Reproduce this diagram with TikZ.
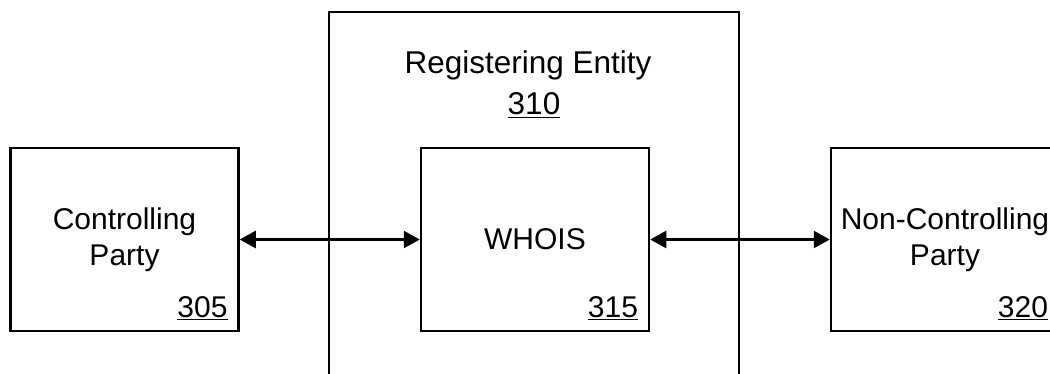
\documentclass[tikz,border=0pt]{standalone}
\usepackage{fontspec}
\setmainfont{Liberation Sans}
\usetikzlibrary{arrows.meta,positioning}

\begin{document}
\begin{tikzpicture}[x=1pt,y=-1pt,<->,>={Triangle[length=16pt,width=17pt]},
  line width=2.5pt,font=\fontsize{30}{36}\selectfont,
  box node/.style={rectangle,draw,minimum width=228pt,minimum height=183pt,align=center},
  num node/.style={anchor=base east,inner sep=0pt},
  title node/.style={anchor=base,inner sep=0pt,font=\fontsize{31.5}{38}\selectfont}]

  \useasboundingbox (0,0) rectangle (1050,374);
  \clip (0,0) rectangle (1050,374);

  \node[box node,minimum width=410pt,minimum height=455pt] (reg) at (534,239.5) {};
  \node[title node] (regtitle) at (528,74) {Registering Entity};
  \node[title node] (regnum) at (534,115) {\underline{310}};

  \node[box node] (ctrl) at (124.5,239.5) {Controlling\\Party};
  \node[box node] (whois) at (535,239.5) {WHOIS};
  \node[box node] (nonctrl) at (945,239.5) {Non-Controlling\\Party};

  \node[num node] (ctrlnum) at ([shift={(-11,-15)}]ctrl.south east) {\underline{305}};
  \node[num node] (whoisnum) at ([shift={(-11,-15)}]whois.south east) {\underline{315}};
  \node[num node] (nonctrlnum) at ([shift={(-11,-15)}]nonctrl.south east) {\underline{320}};

  \draw (ctrl) -- (whois);
  \draw (whois) -- (nonctrl);
\end{tikzpicture}
\end{document}
